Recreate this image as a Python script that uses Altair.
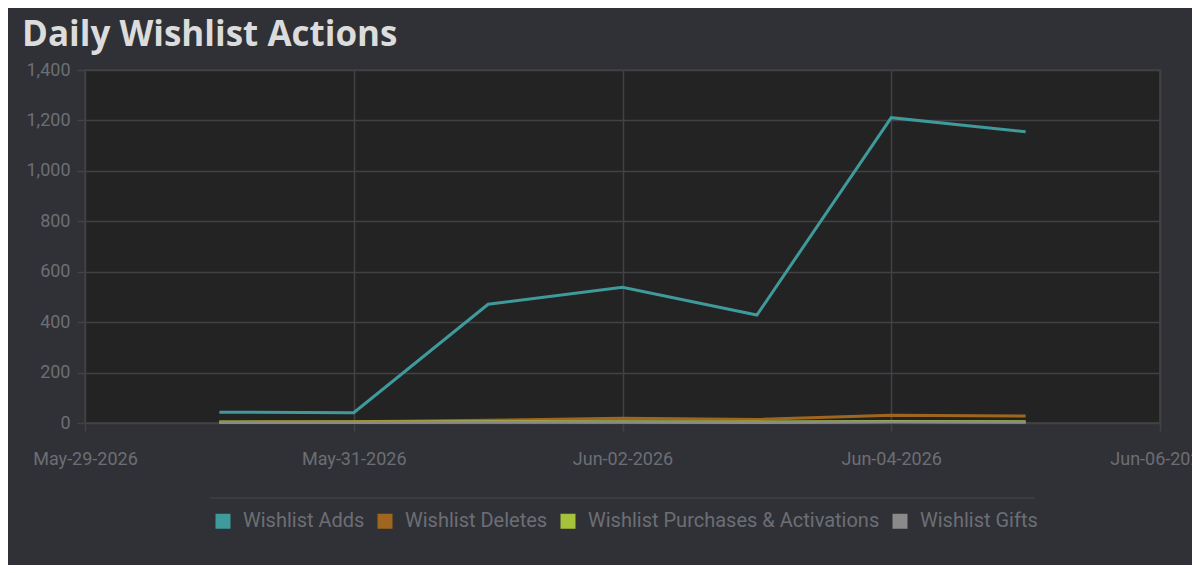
import altair as alt
import pandas as pd

dates = ["2026-05-30", "2026-05-31", "2026-06-01", "2026-06-02", "2026-06-03", "2026-06-04", "2026-06-05"]
adds = [43, 41, 471, 538, 428, 1211, 1155]
deletes = [3, 5, 11, 19, 14, 31, 28]
purchases = [4, 4, 5, 5, 4, 6, 5]
gifts = [2, 2, 3, 3, 2, 4, 3]

series_names = ["Wishlist Adds", "Wishlist Deletes", "Wishlist Purchases & Activations", "Wishlist Gifts"]
series_colors = ["#3f9a9b", "#a0661f", "#a4c23a", "#8a8a8a"]
tick_dates = ["2026-05-29", "2026-05-31", "2026-06-02", "2026-06-04", "2026-06-06"]
y_ticks = [0, 200, 400, 600, 800, 1000, 1200, 1400]

rows = []
for name, vals in zip(series_names, [adds, deletes, purchases, gifts]):
    for d, v in zip(dates, vals):
        rows.append({"date": d, "value": v, "series": name})
df = pd.DataFrame(rows)


def dt(s):
    y, m, d = (int(p) for p in s.split("-"))
    return alt.DateTime(year=y, month=m, date=d, utc=True)


label_color = "#6c6e75"
grid_color = "#424244"

lines = alt.Chart(df).mark_line(strokeWidth=3).encode(
    x=alt.X(
        "date:T",
        title=None,
        scale=alt.Scale(type="utc", domain=[dt(tick_dates[0]), dt(tick_dates[-1])]),
        axis=alt.Axis(
            values=[dt(t) for t in tick_dates],
            labelExpr="utcFormat(datum.value, '%b-%d-%Y')",
            labelPadding=19,
            labelFlush=False,
        ),
    ),
    y=alt.Y(
        "value:Q",
        title=None,
        scale=alt.Scale(domain=[0, 1400], nice=False),
        axis=alt.Axis(
            values=y_ticks,
            labelExpr="format(datum.value, ',')",
            labelPadding=7,
            labelFlush=False,
        ),
    ),
    color=alt.Color(
        "series:N",
        scale=alt.Scale(domain=series_names, range=series_colors),
        sort=series_names,
        legend=alt.Legend(
            title=None,
            orient="none",
            legendX=128,
            legendY=441,
            direction="horizontal",
            symbolType="square",
            symbolSize=49,
            symbolStrokeWidth=8,
            symbolOpacity=1,
            labelFontSize=20,
            labelColor=label_color,
            labelFont="Roboto",
            labelLimit=0,
            labelOffset=10,
            columnPadding=0,
            padding=0,
        ),
    ),
    order=alt.Order("series:N"),
)

sep = alt.Chart(pd.DataFrame({"k": [0]})).mark_rule(color="#3e3f44", strokeWidth=1.5, clip=False).encode(
    x=alt.value(125), x2=alt.value(950), y=alt.value(428)
)

chart = alt.layer(lines, sep).properties(
    width=1075,
    height=353,
    autosize=alt.AutoSizeParams(type="none"),
    padding={"left": 77, "top": 62, "right": 32, "bottom": 142},
    background="#303136",
    title=alt.TitleParams(
        "Daily Wishlist Actions",
        anchor="start",
        frame="group",
        dx=-63,
        fontSize=35,
        font="Open Sans",
        fontWeight="bold",
        color="#dcdcdc",
        offset=8,
    ),
).configure_view(
    fill="#232324", stroke="#3c3c3e", strokeWidth=2
).configure_axis(
    gridColor=grid_color,
    gridWidth=1.5,
    tickColor=grid_color,
    tickSize=8,
    tickWidth=1.5,
    domain=False,
    labelColor=label_color,
    labelFont="Roboto",
    labelFontSize=18,
)

chart.save("out.html", embed_options={"renderer": "svg", "actions": False})
